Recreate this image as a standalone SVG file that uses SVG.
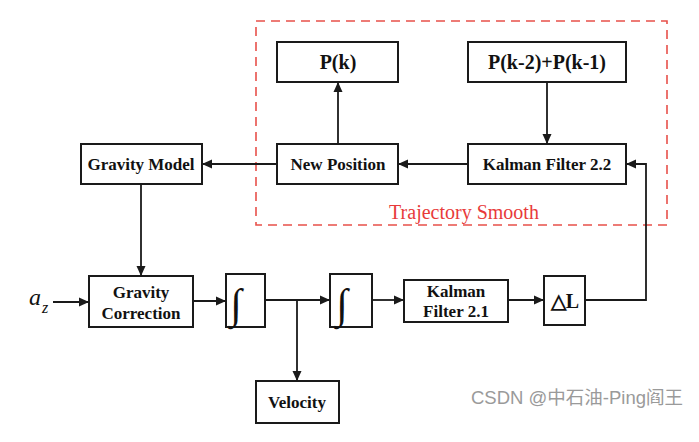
<svg xmlns="http://www.w3.org/2000/svg" width="699" height="442" viewBox="0 0 699 442">
<style>
.box{fill:#fff;stroke:#1a1a1a;stroke-width:2}
.lbl{font-family:"Liberation Serif","Times New Roman",serif;font-weight:bold;fill:#111;text-anchor:middle}
.ln{fill:none;stroke:#1a1a1a;stroke-width:1.8}
.int{font-family:"Liberation Serif","DejaVu Serif",serif;fill:#111;text-anchor:middle}
</style>
<defs>
<marker id="ah" viewBox="0 0 10 10" refX="10" refY="5" markerWidth="10" markerHeight="10" markerUnits="userSpaceOnUse" orient="auto">
<path d="M0,0.5 L10,5 L0,9.5 z" fill="#1a1a1a"/>
</marker>
</defs>
<rect width="699" height="442" fill="#fff"/>
<g id="trajectory-smooth">
<rect x="256" y="21" width="411" height="204" fill="none" stroke="#e8504a" stroke-width="1.6" stroke-dasharray="9,6"/>
<text x="464" y="219" font-family="Liberation Serif,serif" font-size="20" fill="#e83a3a" text-anchor="middle">Trajectory Smooth</text>
</g>
<g id="pk"><rect class="box" x="277" y="42" width="121" height="40"/><text class="lbl" x="338" y="69" font-size="20">P(k)</text></g>
<g id="pk21"><rect class="box" x="468" y="42" width="158" height="40"/><text class="lbl" x="547" y="69" font-size="20">P(k-2)+P(k-1)</text></g>
<g id="newpos"><rect class="box" x="277" y="144" width="121" height="40"/><text class="lbl" x="338" y="170" font-size="17">New Position</text></g>
<g id="kf22"><rect class="box" x="468" y="144" width="158" height="40"/><text class="lbl" x="547" y="170" font-size="17">Kalman Filter 2.2</text></g>
<g id="gravmodel"><rect class="box" x="81" y="144" width="121" height="40"/><text class="lbl" x="141" y="170" font-size="17">Gravity Model</text></g>
<g id="gravcorr"><rect class="box" x="89" y="276" width="104" height="51"/><text class="lbl" x="141" y="298" font-size="17">Gravity</text><text class="lbl" x="141" y="319" font-size="17">Correction</text></g>
<g id="int1"><rect class="box" x="226" y="274" width="39" height="53"/><text class="int" x="236" y="318" font-size="42">∫</text></g>
<g id="int2"><rect class="box" x="330" y="274" width="42" height="53"/><text class="int" x="342" y="318" font-size="42">∫</text></g>
<g id="kf21"><rect class="box" x="404" y="280" width="104" height="42"/><text class="lbl" x="456" y="297" font-size="17">Kalman</text><text class="lbl" x="456" y="317" font-size="17">Filter 2.1</text></g>
<g id="dl"><rect class="box" x="544" y="276" width="41" height="49"/><text class="lbl" x="565" y="308" font-size="20">△L</text></g>
<g id="velocity"><rect class="box" x="256" y="381" width="83" height="42"/><text class="lbl" x="297" y="408" font-size="17">Velocity</text></g>
<g id="input"><text x="29" y="305" font-family="Liberation Serif,serif" font-style="italic" font-size="24" fill="#111">a</text><text x="42" y="313" font-family="Liberation Serif,serif" font-style="italic" font-size="16" fill="#111">z</text></g>
<g id="connectors">
<line class="ln" x1="53" y1="302" x2="89" y2="302" marker-end="url(#ah)"/>
<line class="ln" x1="193" y1="301" x2="226" y2="301" marker-end="url(#ah)"/>
<line class="ln" x1="265" y1="300" x2="330" y2="300" marker-end="url(#ah)"/>
<line class="ln" x1="297" y1="300" x2="297" y2="381" marker-end="url(#ah)"/>
<line class="ln" x1="372" y1="300" x2="404" y2="300" marker-end="url(#ah)"/>
<line class="ln" x1="508" y1="300" x2="544" y2="300" marker-end="url(#ah)"/>
<polyline class="ln" points="585,300 646,300 646,164 626,164" marker-end="url(#ah)"/>
<line class="ln" x1="468" y1="164" x2="398" y2="164" marker-end="url(#ah)"/>
<line class="ln" x1="547" y1="82" x2="547" y2="144" marker-end="url(#ah)"/>
<line class="ln" x1="338" y1="144" x2="338" y2="82" marker-end="url(#ah)"/>
<line class="ln" x1="277" y1="164" x2="202" y2="164" marker-end="url(#ah)"/>
<line class="ln" x1="141" y1="184" x2="141" y2="276" marker-end="url(#ah)"/>
</g>
<text x="683" y="404" font-family="Liberation Sans,'Noto Sans CJK SC',sans-serif" font-size="18.5" fill="#9a9a9a" text-anchor="end">CSDN @中石油-Ping阎王</text>
</svg>
